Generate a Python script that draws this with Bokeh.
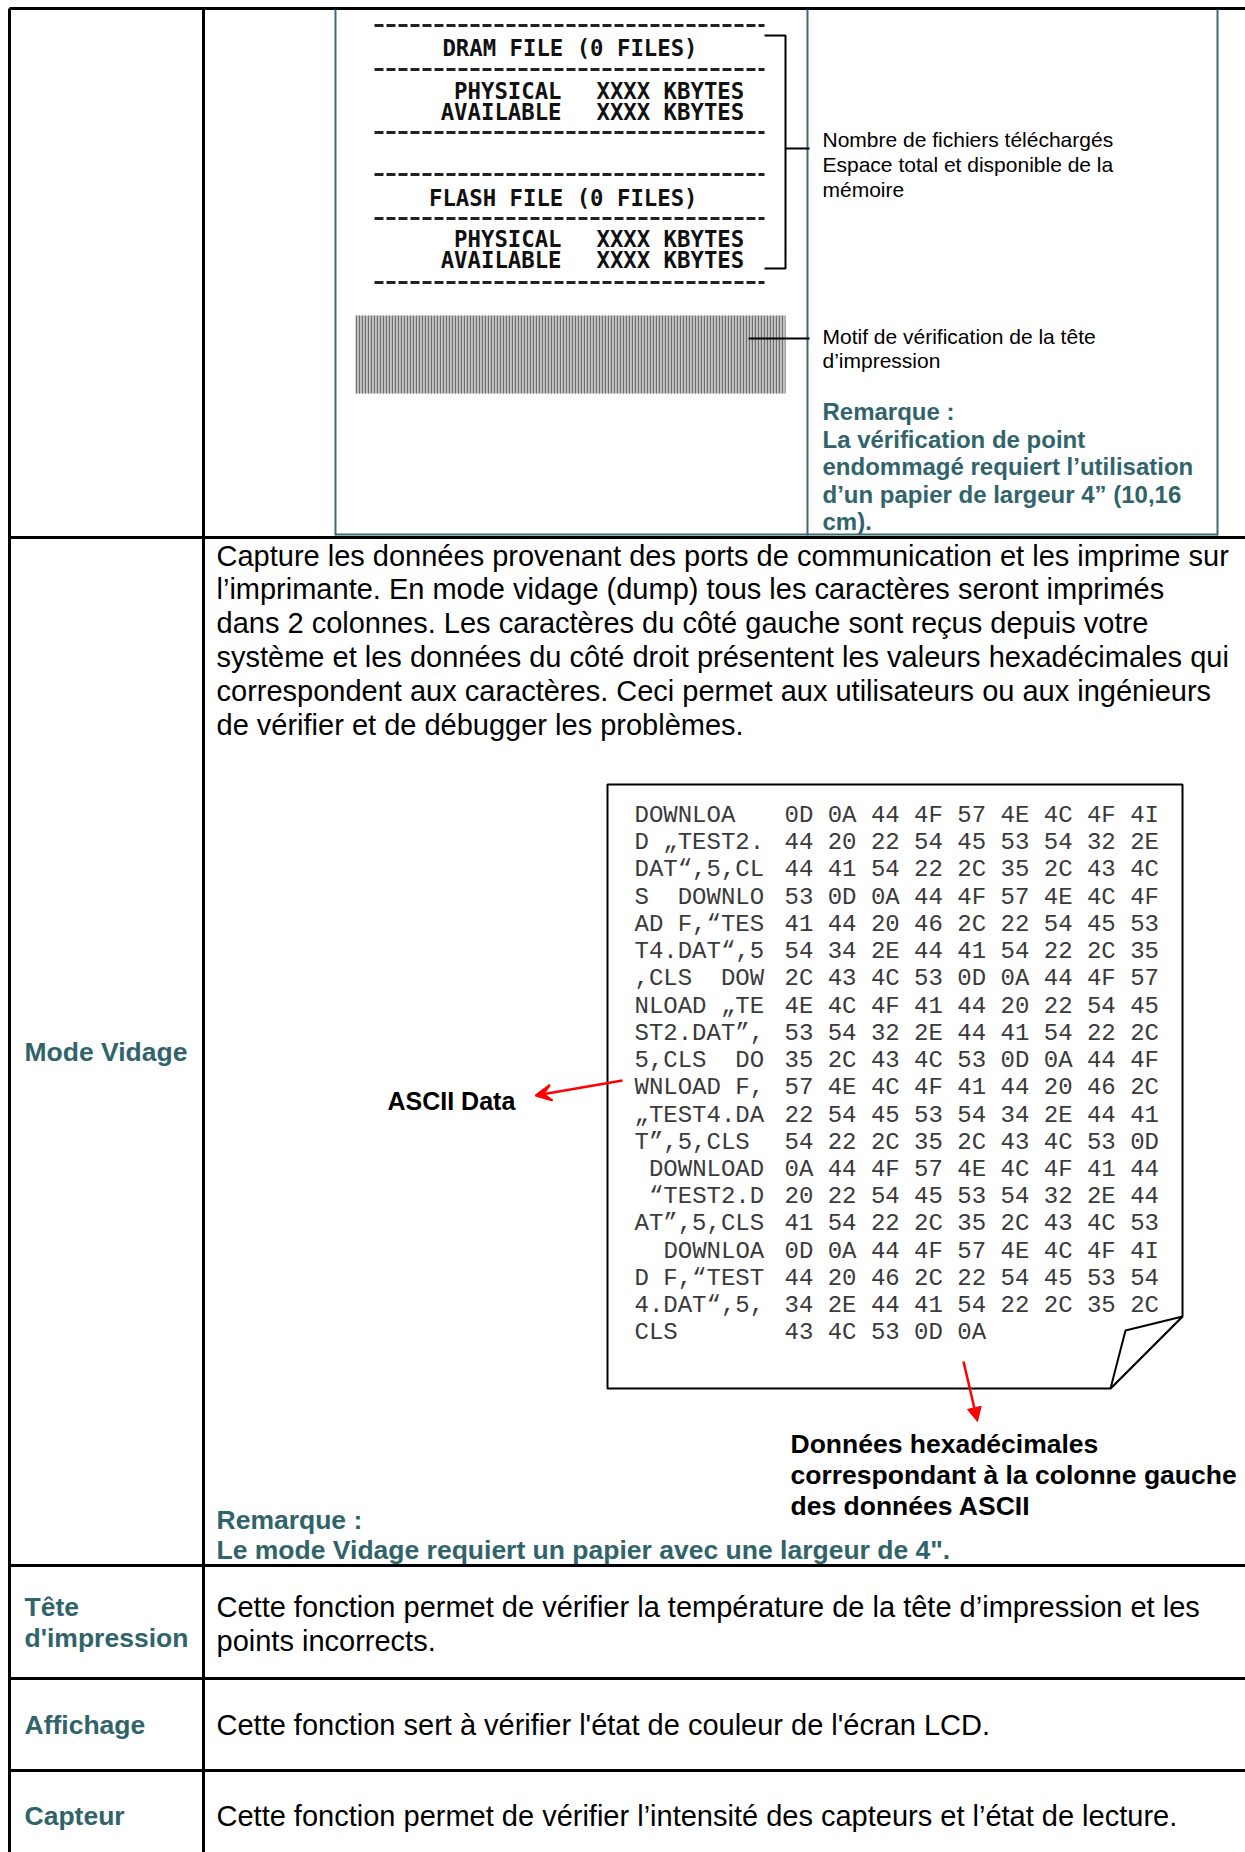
from bokeh.plotting import figure
from bokeh.models import Range1d, Arrow, VeeHead, NormalHead
from bokeh.core.properties import value
from bokeh.embed import file_html
from bokeh.resources import INLINE

# ---------------- content ----------------
receipt_headers = ["DRAM FILE (0 FILES)", "FLASH FILE (0 FILES)"]
receipt_keys = ["PHYSICAL", "AVAILABLE"]
receipt_vals = ["XXXX KBYTES", "XXXX KBYTES"]

memory_note = ["Nombre de fichiers téléchargés",
               "Espace total et disponible de la",
               "mémoire"]
head_note = ["Motif de vérification de la tête", "d’impression"]
head_remark = ["Remarque :",
               "La vérification de point",
               "endommagé requiert l’utilisation",
               "d’un papier de largeur 4” (10,16",
               "cm)."]

dump_desc = [
    "Capture les données provenant des ports de communication et les imprime sur",
    "l’imprimante. En mode vidage (dump) tous les caractères seront imprimés",
    "dans 2 colonnes. Les caractères du côté gauche sont reçus depuis votre",
    "système et les données du côté droit présentent les valeurs hexadécimales qui",
    "correspondent aux caractères. Ceci permet aux utilisateurs ou aux ingénieurs",
    "de vérifier et de débugger les problèmes.",
]

ascii_col = [
    "DOWNLOA", "D „TEST2.", "DAT“,5,CL", "S  DOWNLO", "AD F,“TES",
    "T4.DAT“,5", ",CLS  DOW", "NLOAD „TE", "ST2.DAT”,", "5,CLS  DO",
    "WNLOAD F,", "„TEST4.DA", "T”,5,CLS", " DOWNLOAD", " “TEST2.D",
    "AT”,5,CLS", "  DOWNLOA", "D F,“TEST", "4.DAT“,5,", "CLS",
]
hex_col = [
    "0D 0A 44 4F 57 4E 4C 4F 4I",
    "44 20 22 54 45 53 54 32 2E",
    "44 41 54 22 2C 35 2C 43 4C",
    "53 0D 0A 44 4F 57 4E 4C 4F",
    "41 44 20 46 2C 22 54 45 53",
    "54 34 2E 44 41 54 22 2C 35",
    "2C 43 4C 53 0D 0A 44 4F 57",
    "4E 4C 4F 41 44 20 22 54 45",
    "53 54 32 2E 44 41 54 22 2C",
    "35 2C 43 4C 53 0D 0A 44 4F",
    "57 4E 4C 4F 41 44 20 46 2C",
    "22 54 45 53 54 34 2E 44 41",
    "54 22 2C 35 2C 43 4C 53 0D",
    "0A 44 4F 57 4E 4C 4F 41 44",
    "20 22 54 45 53 54 32 2E 44",
    "41 54 22 2C 35 2C 43 4C 53",
    "0D 0A 44 4F 57 4E 4C 4F 4I",
    "44 20 46 2C 22 54 45 53 54",
    "34 2E 44 41 54 22 2C 35 2C",
    "43 4C 53 0D 0A",
]
ascii_label = "ASCII Data"
hex_label = ["Données hexadécimales",
             "correspondant à la colonne gauche",
             "des données ASCII"]
dump_remark = ["Remarque :",
               "Le mode Vidage requiert un papier avec une largeur de 4\"."]

row_labels = [["Mode Vidage"], ["Tête", "d'impression"], ["Affichage"], ["Capteur"]]
row_texts = [
    ["Cette fonction permet de vérifier la température de la tête d’impression et les",
     "points incorrects."],
    ["Cette fonction sert à vérifier l'état de couleur de l'écran LCD."],
    ["Cette fonction permet de vérifier l’intensité des capteurs et l’état de lecture."],
]

# ---------------- styles / layout ----------------
TEAL = "#31646A"
TEAL_LINE = "#3A6C72"
SANS = "Liberation Sans"
MONO = "Liberation Mono"
PRN = "DejaVu Sans Mono"

W, H = 1245, 1852
p = figure(width=W, height=H, output_backend="svg", toolbar_location=None,
           x_range=Range1d(0, W), y_range=Range1d(H, 0),
           min_border=0, outline_line_color=None, background_fill_color="white",
           border_fill_color="white")
p.axis.visible = False
p.grid.visible = False


def txt(xs, ys, texts, size, color="black", font=SANS, style="normal", align="left"):
    p.text(x=xs, y=ys, text=texts, text_font=value(font), text_font_size=value(size),
           text_color=color, text_font_style=style, text_align=align,
           text_baseline="middle")


# ---- table lines ----
row_y = [8, 537, 1565, 1678, 1770]
p.multi_line(xs=[[9, 1245]] * len(row_y), ys=[[y, y] for y in row_y],
             line_color="black", line_width=3)
p.multi_line(xs=[[9, 9], [203, 203]], ys=[[8, 1852], [8, 1852]],
             line_color="black", line_width=3)

# ---- teal inner box (row 1) ----
p.multi_line(xs=[[335, 335], [807, 807], [1217, 1217], [335, 1217]],
             ys=[[9, 535], [9, 535], [9, 535], [534, 534]],
             line_color=TEAL_LINE, line_width=2)

# ---- printer receipt ----
dash_y = [25, 69, 132, 174, 218, 282]
for y in dash_y:
    p.line(x=[374, 764], y=[y, y], line_color="#222222", line_width=3, line_dash="9 3")
txt([697, 697], [47, 197], receipt_headers, "22.3px", "#111111", PRN, "bold", "right")
key_y = [90, 111, 238, 259]
txt([561] * 4, key_y, receipt_keys * 2, "22.3px", "#111111", PRN, "bold", "right")
txt([596] * 4, key_y, receipt_vals * 2, "22.3px", "#111111", PRN, "bold", "left")
# bracket
p.multi_line(xs=[[764, 785, 785, 764], [785, 809]], ys=[[35, 35, 268, 268], [148, 148]],
             line_color="black", line_width=2)

# halftone head test pattern
p.quad(left=[355], right=[785], top=[315], bottom=[393], fill_color="#c4c4c4",
       line_color=None, hatch_pattern="vertical_line", hatch_color="#707070",
       hatch_scale=3, hatch_weight=1.3)
p.line(x=[748, 809], y=[338, 338], line_color="black", line_width=2)

txt([822] * 3, [139, 164, 189], memory_note, "21px")
txt([822] * 2, [336, 360], head_note, "21px")
txt([822] * 5, [411, 438.5, 466, 493.5, 521], head_remark, "24px", TEAL, style="bold")

# ---- Mode Vidage row ----
txt([24], [1051], row_labels[0], "26.5px", TEAL, style="bold")
body_y0, body_dy = 555, 33.8
txt([216] * len(dump_desc), [body_y0 + i * body_dy for i in range(len(dump_desc))],
    dump_desc, "29px")

# dump page with folded corner
p.patch(x=[607, 1182, 1182, 1110, 607], y=[784, 784, 1316, 1388, 1388],
        fill_color="white", line_color="black", line_width=2)
p.patch(x=[1182, 1125, 1110], y=[1316, 1330, 1388],
        fill_color="white", line_color="black", line_width=2)

mono_y0, mono_dy = 815, 27.23
CH = 14.45
ax = [634 + CH * (len(s) - len(s.lstrip(" "))) for s in ascii_col]
ascii_txt = [s.lstrip(" ").replace(" ", "\u00a0") for s in ascii_col]
my = [mono_y0 + i * mono_dy for i in range(len(ascii_col))]
txt(ax, my, ascii_txt, "24px", "#3a3a3a", MONO)
txt([784] * len(hex_col), my, hex_col, "24px", "#3a3a3a", MONO)

txt([387], [1100], [ascii_label], "25px", style="bold")
p.add_layout(Arrow(end=VeeHead(size=16, line_color="#ff0000", fill_color="#ff0000",
                               line_width=2),
                   x_start=622, y_start=1080, x_end=535, y_end=1095,
                   line_color="#ff0000", line_width=2.5))
p.add_layout(Arrow(end=NormalHead(size=14, line_color="#ff0000", fill_color="#ff0000"),
                   x_start=963, y_start=1361, x_end=977, y_end=1421,
                   line_color="#ff0000", line_width=2.5))
txt([790] * 3, [1443, 1474, 1505], hex_label, "26.5px", style="bold")
txt([216] * 2, [1519, 1549], dump_remark, "26.5px", TEAL, style="bold")

# ---- remaining rows ----
txt([24, 24], [1606, 1637], row_labels[1], "26.5px", TEAL, style="bold")
txt([216, 216], [1606, 1640], row_texts[0], "29px")
txt([24], [1724], row_labels[2], "26.5px", TEAL, style="bold")
txt([216], [1724], row_texts[1], "29px")
txt([24], [1815], row_labels[3], "26.5px", TEAL, style="bold")
txt([216], [1815], row_texts[2], "29px")

open("out.html", "w").write(file_html(p, INLINE))
